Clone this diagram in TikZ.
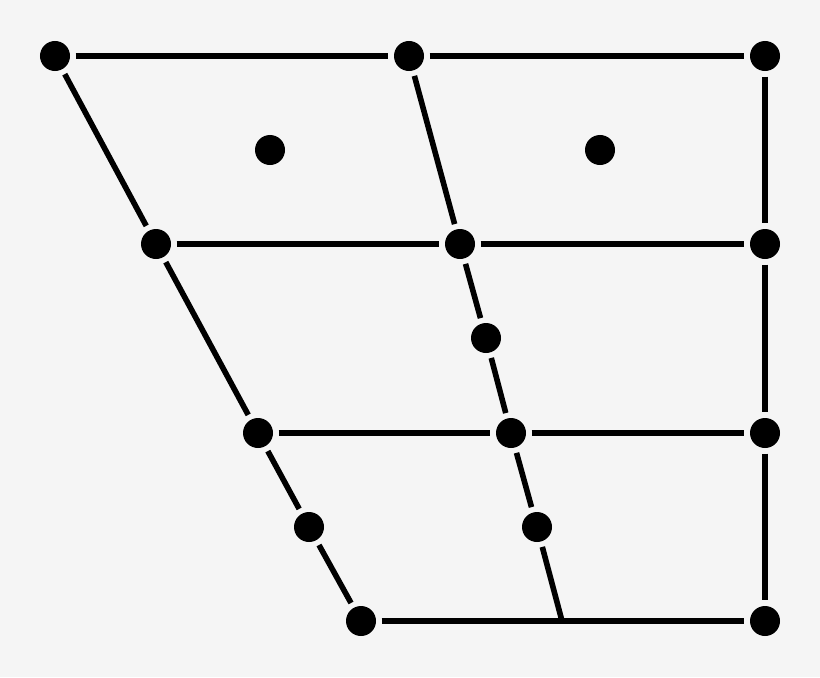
\documentclass[tikz,border=0pt]{standalone}
\usepackage{tikz}
\usetikzlibrary{positioning}
\definecolor{bgcol}{HTML}{F5F5F5}

\begin{document}
\begin{tikzpicture}[x=0.025cm,y=-0.025cm,
dot/.style={circle,fill=black,minimum size=0.75cm,inner sep=0pt,outer sep=0.14cm},
line/.style={line width=0.14cm}]
\fill[bgcol](0,0) rectangle (820,677);

\node[dot](FC) at (55,56){};
\node[dot](CC) at (409,56){};
\node[dot](BC) at (765,56){};
\node[dot](FCM) at (156,244){};
\node[dot](CCM) at (460,244){};
\node[dot](BCM) at (765,244){};
\node[dot](FOM) at (258,433){};
\node[dot](COM) at (511,433){};
\node[dot](BOM) at (765,433){};
\node[dot](FO) at (361,621){};
\node[dot](BO) at (765,621){};
\coordinate(CO) at (562,621);

\node[dot](NF) at (270,150){};
\node[dot](NB) at (600,150){};
\node[dot](MID) at (486,338){};
\node[dot](NFO) at (309,527){};
\node[dot](NCO) at (537,527){};

\path[line]
(FC) edge (CC)
(CC) edge (BC)
(FCM) edge (CCM)
(CCM) edge (BCM)
(FOM) edge (COM)
(COM) edge (BOM)
(FO) edge (BO)
(FC) edge (FCM)
(FCM) edge (FOM)
(FOM) edge (NFO)
(NFO) edge (FO)
(CC) edge (CCM)
(CCM) edge (MID)
(MID) edge (COM)
(COM) edge (NCO)
(NCO) edge (CO)
(BC) edge (BCM)
(BCM) edge (BOM)
(BOM) edge (BO);
\end{tikzpicture}
\end{document}
